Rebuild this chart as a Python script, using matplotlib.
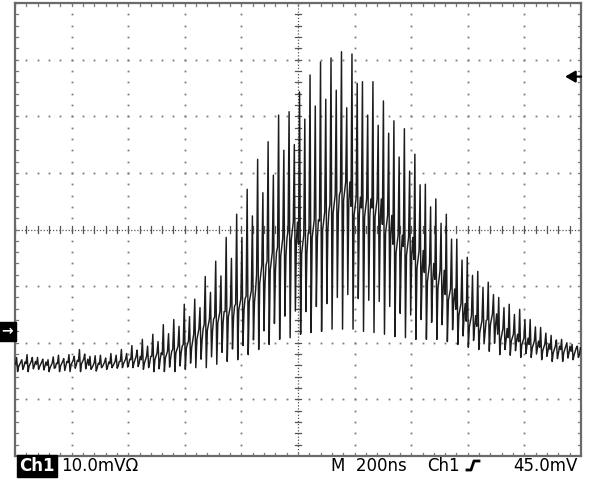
import numpy as np
import matplotlib
matplotlib.use("Agg")
import matplotlib.pyplot as plt
from matplotlib.lines import Line2D
from matplotlib.transforms import blended_transform_factory

# ---------------- data (mV, ground marker = 0 mV) -------------
# one entry per oscillation cycle across the 2000 ns record
peaks_mV = [-4.6, -4.1, -4.6, -5.0, -4.2, -4.1, -3.2, -4.4, -4.2, -3.9, -3.2, -2.5,
            -1.4, -0.5, 1.2, 2.1, 4.8, 5.7, 9.7, 12.4, 16.6, 20.7, 25.1, 30.4, 33.5,
            38.2, 38.8, 42.3, 45.3, 47.6, 48.3, 49.4, 49.0, 44.1, 44.1, 40.7, 37.2,
            35.8, 31.3, 26.0, 23.4, 20.7, 16.3, 13.1, 10.6, 8.7, 6.0, 4.8, 3.9, 2.1,
            0.7, -0.7, -1.4, -2.3]
troughs_mV = [-7.1, -7.1, -6.7, -7.1, -7.1, -7.1, -7.1, -6.7, -6.4, -6.4, -6.4, -6.4,
              -6.7, -7.1, -7.1, -7.1, -6.7, -6.4, -6.4, -5.8, -5.3, -5.0, -4.1, -3.2,
              -2.3, -1.4, -1.1, -0.5, -0.2, 0.0, 0.4, 0.4, 0.4, 0.0, -0.2, -0.5, -0.9,
              -1.1, -1.4, -1.4, -1.4, -1.8, -2.3, -2.8, -3.2, -3.5, -4.1, -4.2, -4.6,
              -4.6, -5.0, -5.3, -5.3, -5.0]
peaks2_mV = [-5.0, -4.6, -4.9, -4.5, -4.8, -4.4, -4.0, -4.3, -4.7, -4.2, -3.9, -3.3,
             -2.6, -1.8, -0.4, 0.9, 2.6, 4.2, 6.9, 9.8, 12.9, 16.6, 20.4, 24.5, 27.6,
             32.0, 33.0, 37.5, 39.8, 41.0, 42.6, 39.5, 43.8, 38.2, 36.4, 35.0, 30.8,
             28.3, 25.9, 22.0, 19.1, 16.3, 12.6, 9.9, 7.8, 6.5, 4.2, 3.0, 2.1, 0.8,
             -0.3, -1.5, -2.0, -2.6]
troughs2_mV = [-6.7, -6.6, -6.8, -6.5, -6.9, -6.5, -6.6, -7.0, -6.7, -6.5, -6.3, -6.2,
               -6.4, -6.6, -6.3, -6.1, -5.6, -4.9, -4.5, -3.7, -3.1, -2.5, -1.5, 0.1,
               1.4, 2.7, 3.6, 3.5, 4.4, 4.9, 6.0, 6.5, 5.8, 5.5, 5.3, 4.4, 3.2, 2.9,
               2.1, 1.6, 1.2, 0.3, -0.8, -1.6, -2.2, -2.1, -3.2, -3.4, -3.9, -4.0,
               -4.4, -4.8, -4.7, -4.6]
mid_mV = [-5.8, -5.7, -5.8, -6.0, -5.7, -5.5, -5.3, -6.0, -5.8, -5.7, -5.3, -5.0,
          -5.0, -4.4, -4.1, -3.2, -2.3, -0.5, 1.2, 2.5, 3.5, 4.8, 6.2, 10.1, 12.4,
          14.9, 17.7, 15.4, 18.1, 19.5, 22.5, 24.8, 22.1, 21.8, 21.8, 18.9, 15.4,
          15.0, 12.7, 10.4, 9.2, 6.5, 3.9, 1.8, 0.9, 2.1, -0.5, -1.1, -1.8, -2.3,
          -2.8, -3.2, -3.2, -3.5]
mid_hi_mV = [-5.4, -5.3, -5.4, -5.6, -5.3, -5.1, -4.9, -5.6, -5.4, -5.3, -4.9, -4.4,
             -4.4, -3.8, -3.5, -2.6, -1.7, 0.5, 2.2, 3.5, 4.5, 5.8, 7.2, 11.7, 14.0,
             16.5, 19.3, 17.0, 19.7, 21.1, 24.1, 26.4, 23.7, 23.4, 23.4, 20.5, 17.0,
             16.6, 14.3, 12.0, 10.8, 7.5, 4.9, 2.8, 1.9, 3.1, 0.5, -0.5, -1.2, -1.7,
             -2.2, -2.6, -2.6, -2.9]
mid_lo_mV = [-6.2, -6.1, -6.2, -6.4, -6.1, -5.9, -5.7, -6.4, -6.2, -6.1, -5.7, -5.6,
             -5.6, -5.0, -4.7, -3.8, -2.9, -1.5, 0.2, 1.5, 2.5, 3.8, 5.2, 8.5, 10.8,
             13.3, 16.1, 13.8, 16.5, 17.9, 20.9, 23.2, 20.5, 20.2, 20.2, 17.3, 13.8,
             13.4, 11.1, 8.8, 7.6, 5.5, 2.9, 0.8, -0.1, 1.1, -1.5, -1.7, -2.4, -2.9,
             -3.4, -3.8, -3.8, -4.1]

record_ns = 2000.0          # 10 div x 200 ns
volts_per_div = 10.0        # mV/div
screen_center_mV = 18.0     # ground marker sits 1.8 div below centre
trigger_level_mV = 45.0
label_ch = "Ch1"
label_scale = "10.0mV\u03a9"
label_time = "M  200ns"
label_trig_ch = "Ch1"
label_trig = "45.0mV"

# ---------------- figure ----------------
W, H = 589, 479
fig = plt.figure(figsize=(W / 100, H / 100), dpi=100)
fig.patch.set_facecolor("white")
ax = fig.add_axes([15 / W, (H - 456) / H, 566 / W, 453 / H])
ax.set_facecolor("white")
ax.set_xlim(0, record_ns)
ylo = screen_center_mV - 4 * volts_per_div
yhi = screen_center_mV + 4 * volts_per_div
ax.set_ylim(ylo, yhi)
ax.set_xticks([])
ax.set_yticks([])
for s in ax.spines.values():
    s.set_color("#6a6a6a")
    s.set_linewidth(1.6)

gcol = "#7a7a7a"
xdiv = record_ns / 10
# graticule dots
sub_y = np.arange(ylo, yhi + 1e-6, volts_per_div / 5)
sub_x = np.arange(0, record_ns + 1e-6, xdiv / 5)
for k in range(1, 10):
    if k == 5:
        continue
    ax.plot(np.full(sub_y.size, k * xdiv), sub_y, ls="none", marker="s", ms=1.3,
            mec="none", mfc=gcol)
for k in range(1, 8):
    if k == 4:
        continue
    ax.plot(sub_x, np.full(sub_x.size, ylo + k * volts_per_div), ls="none", marker="s",
            ms=1.3, mec="none", mfc=gcol)
# centre cross lines
ax.axvline(record_ns / 2, color="#555555", lw=0.9, ls=(0, (1, 1.5)))
ax.axhline(screen_center_mV, color="#555555", lw=0.9, ls=(0, (1, 1.5)))
tl_y = 0.06 * volts_per_div
tl_x = 0.06 * xdiv
for yy in sub_y:
    ax.plot([record_ns / 2 - tl_x, record_ns / 2 + tl_x], [yy, yy], color="#555555", lw=0.9)
for xx in sub_x:
    ax.plot([xx, xx], [screen_center_mV - tl_y, screen_center_mV + tl_y], color="#555555", lw=0.9)
# edge ticks
et_y = 0.06 * volts_per_div
et_x = 0.06 * xdiv
for xx in sub_x:
    ax.plot([xx, xx], [ylo, ylo + et_y], color=gcol, lw=0.9)
    ax.plot([xx, xx], [yhi - et_y, yhi], color=gcol, lw=0.9)
for yy in sub_y:
    ax.plot([0, et_x], [yy, yy], color=gcol, lw=0.9)
    ax.plot([record_ns - et_x, record_ns], [yy, yy], color=gcol, lw=0.9)

# ---------------- trace ----------------
n = len(peaks_mV)
order = [mid_mV, peaks_mV, troughs_mV, mid_lo_mV, mid_mV, mid_hi_mV,
         peaks2_mV, troughs2_mV, mid_lo_mV, mid_hi_mV]
per = len(order)
seq = np.empty(n * per)
for j, arr in enumerate(order):
    seq[j::per] = arr
dt = record_ns / seq.size
t = (np.arange(seq.size) + 0.5) * dt
ax.plot(t, seq, color="#1c1c1c", lw=1.05, zorder=5)

# ---------------- markers ----------------
btr = blended_transform_factory(fig.transFigure, ax.transData)
fig.text(7 / W, 0.0, "\u2192", transform=btr, color="white", fontsize=10,
         fontweight="bold", ha="center", va="center",
         bbox=dict(boxstyle="square,pad=0.2", fc="black", ec="black"))
atr = blended_transform_factory(ax.transAxes, ax.transData)
ax.annotate("", xy=(0.972, trigger_level_mV), xycoords=atr,
            xytext=(1.0, trigger_level_mV), textcoords=atr,
            arrowprops=dict(arrowstyle="-|>,head_length=0.6,head_width=0.35",
                            color="black", lw=1.6, shrinkA=0, shrinkB=0),
            annotation_clip=False)

# ---------------- status line ----------------
def fx(px):
    return px / W

def fy(py):
    return 1 - py / H

base = 471
fs = 12
fig.text(fx(19), fy(base), label_ch, color="white", fontsize=fs, va="baseline",
         ha="left", fontweight="bold",
         bbox=dict(boxstyle="square,pad=0.12", fc="black", ec="black"))
fig.text(fx(61), fy(base), label_scale, color="black", fontsize=fs, va="baseline", ha="left")
fig.text(fx(331), fy(base), label_time, color="black", fontsize=fs, va="baseline", ha="left")
fig.text(fx(427), fy(base), label_trig_ch, color="black", fontsize=fs, va="baseline", ha="left")
fig.add_artist(Line2D([fx(467), fx(471), fx(474), fx(479)],
                      [fy(470), fy(470), fy(461), fy(461)],
                      transform=fig.transFigure, color="black", lw=2.0))
fig.text(fx(578), fy(base), label_trig, color="black", fontsize=fs, va="baseline", ha="right")

fig.savefig("out.png", dpi=100, facecolor="white")
